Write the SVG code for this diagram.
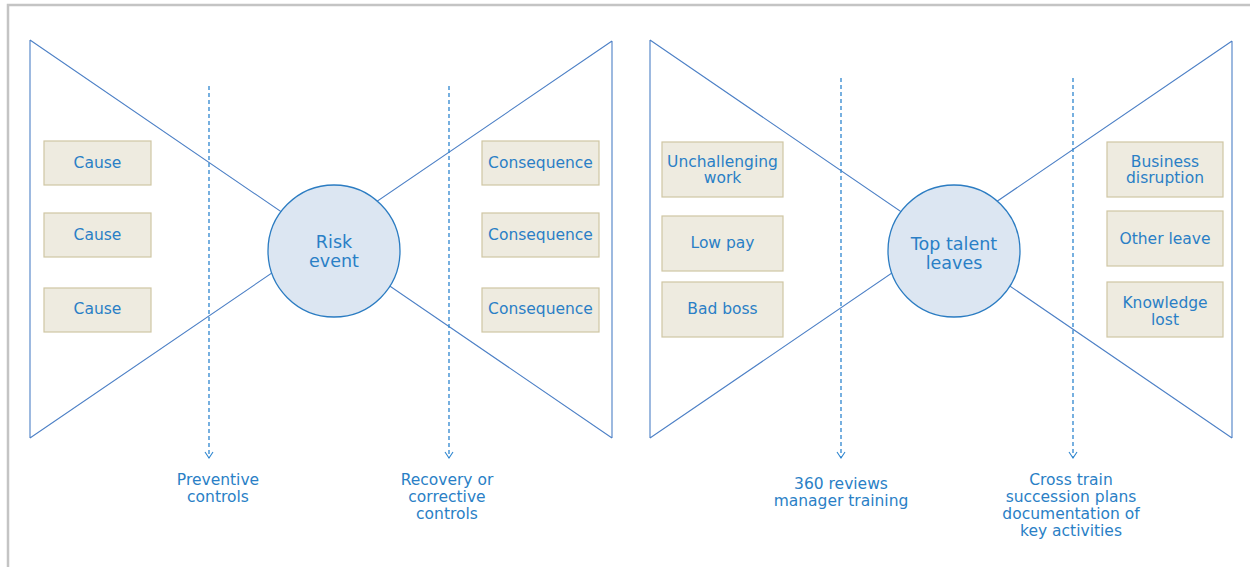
<svg xmlns="http://www.w3.org/2000/svg" width="1250" height="567" viewBox="0 0 1250 567">
<defs>
<marker id="chev" markerWidth="10" markerHeight="8" refX="5" refY="7" orient="0" markerUnits="userSpaceOnUse" viewBox="0 0 10 8">
<polyline points="1,1 5,7 9,1" fill="none" stroke="#2f86cf" stroke-width="1.1"/>
</marker>
<style>
.frame{fill:none;stroke:#c4c4c4;stroke-width:2.5}
.bow{fill:none;stroke:#4d80c6;stroke-width:1.1}
.dash{fill:none;stroke:#2f86cf;stroke-width:1.3;stroke-dasharray:4 3}
.box{fill:#eeebe0;stroke:#cfc6a3;stroke-width:1.2}
.hub{fill:#dce6f2;stroke:#2b7cc2;stroke-width:1.3}
text{font-family:"DejaVu Sans","Liberation Sans",sans-serif;fill:#2a7fc6;text-anchor:middle;font-size:15.5px}
.big{font-size:17.5px}
</style>
</defs>
<path class="frame" d="M8,567 V5 H1250"/>
<g id="connectors">
<path class="bow" d="M30,40 V438 M30,40 L612,438 M30,438 L612,41 M612,41 V438"/>
<path class="bow" d="M650,40 V438 M650,40 L1232,438 M650,438 L1232,41 M1232,41 V438"/>
<line class="dash" x1="209" y1="86" x2="209" y2="458" marker-end="url(#chev)"/>
<line class="dash" x1="449" y1="86" x2="449" y2="458" marker-end="url(#chev)"/>
<line class="dash" x1="841" y1="78" x2="841" y2="458" marker-end="url(#chev)"/>
<line class="dash" x1="1073" y1="78" x2="1073" y2="458" marker-end="url(#chev)"/>
</g>
<g id="risk-event"><circle class="hub" cx="334" cy="251" r="66"/><text x="334" y="248" class="big">Risk</text><text x="334" y="267" class="big">event</text></g>
<g id="top-talent"><circle class="hub" cx="954" cy="251" r="66"/><text x="954" y="250" class="big">Top talent</text><text x="954" y="269" class="big">leaves</text></g>
<g id="cause1"><rect class="box" x="44" y="141" width="107" height="44"/><text x="97.5" y="168">Cause</text></g>
<g id="cause2"><rect class="box" x="44" y="213" width="107" height="44"/><text x="97.5" y="240">Cause</text></g>
<g id="cause3"><rect class="box" x="44" y="288" width="107" height="44"/><text x="97.5" y="314">Cause</text></g>
<g id="cons1"><rect class="box" x="482" y="141" width="117" height="44"/><text x="540.5" y="168">Consequence</text></g>
<g id="cons2"><rect class="box" x="482" y="213" width="117" height="44"/><text x="540.5" y="240">Consequence</text></g>
<g id="cons3"><rect class="box" x="482" y="288" width="117" height="44"/><text x="540.5" y="314">Consequence</text></g>
<g id="unchallenging"><rect class="box" x="662" y="142" width="121" height="55"/><text x="722.5" y="167">Unchallenging</text><text x="722.5" y="183">work</text></g>
<g id="lowpay"><rect class="box" x="662" y="216" width="121" height="55"/><text x="722.5" y="248">Low pay</text></g>
<g id="badboss"><rect class="box" x="662" y="282" width="121" height="55"/><text x="722.5" y="314">Bad boss</text></g>
<g id="business"><rect class="box" x="1107" y="142" width="116" height="55"/><text x="1165" y="167">Business</text><text x="1165" y="183">disruption</text></g>
<g id="otherleave"><rect class="box" x="1107" y="211" width="116" height="55"/><text x="1165" y="244">Other leave</text></g>
<g id="knowledge"><rect class="box" x="1107" y="282" width="116" height="55"/><text x="1165" y="308">Knowledge</text><text x="1165" y="325">lost</text></g>
<g id="label-preventive"><text x="218" y="485">Preventive</text><text x="218" y="502">controls</text></g>
<g id="label-recovery"><text x="447" y="485">Recovery or</text><text x="447" y="502">corrective</text><text x="447" y="519">controls</text></g>
<g id="label-360"><text x="841" y="489">360 reviews</text><text x="841" y="506">manager training</text></g>
<g id="label-cross"><text x="1071" y="485">Cross train</text><text x="1071" y="502">succession plans</text><text x="1071" y="519">documentation of</text><text x="1071" y="536">key activities</text></g>
</svg>
